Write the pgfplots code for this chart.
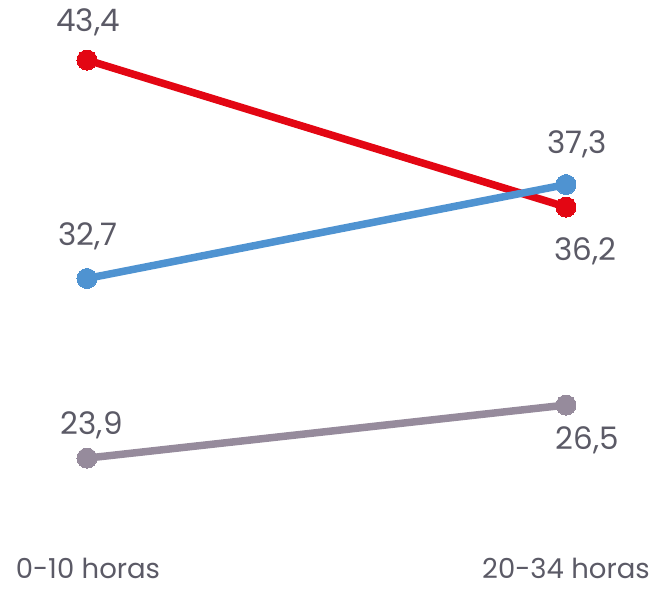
\documentclass[border=0pt]{standalone}
\usepackage{fontspec}
\setmainfont{Poppins}
\usepackage{pgfplots}
\pgfplotsset{compat=1.18}
\definecolor{cred}{HTML}{E30613}
\definecolor{cblue}{HTML}{4F93D1}
\definecolor{cgray}{HTML}{968B9C}
\definecolor{ctext}{HTML}{5B5A66}
\begin{document}
\begin{tikzpicture}
\begin{axis}[
  scale only axis,
  width=651pt, height=589pt,
  xmin=-0.1816, xmax=1.1775,
  ymin=17.49, ymax=46.34,
  hide axis,
  clip=false,
  every axis plot/.append style={line width=7.5pt, mark=*, mark size=10pt},
]
\path (rel axis cs:0,0) rectangle (rel axis cs:1,1);
\addplot[cred, mark options={fill=cred, draw=cred, line width=0pt}] coordinates {(0,43.4) (1,36.2)};
\addplot[cblue, mark options={fill=cblue, draw=cblue, line width=0pt}] coordinates {(0,32.7) (1,37.3)};
\addplot[cgray, mark options={fill=cgray, draw=cgray, line width=0pt}] coordinates {(0,23.9) (1,26.5)};
\begin{scope}[every node/.style={text=ctext, font=\fontsize{31}{31}\selectfont, inner sep=0pt}]
\node at (axis cs:0.002,45.26) {43,4};
\node at (axis cs:0.002,34.75) {32,7};
\node at (axis cs:0.010,25.5) {23,9};
\node at (axis cs:1.023,39.27) {37,3};
\node at (axis cs:1.040,34.05) {36,2};
\node at (axis cs:1.044,24.76) {26,5};
\end{scope}
\begin{scope}[every node/.style={text=ctext, font=\fontsize{27.5}{27.5}\selectfont, inner sep=0pt, anchor=base}]
\node at (axis cs:0.002,18.02) {0-10 horas};
\node at (axis cs:1.0,18.02) {20-34 horas};
\end{scope}
\end{axis}
\end{tikzpicture}
\end{document}
